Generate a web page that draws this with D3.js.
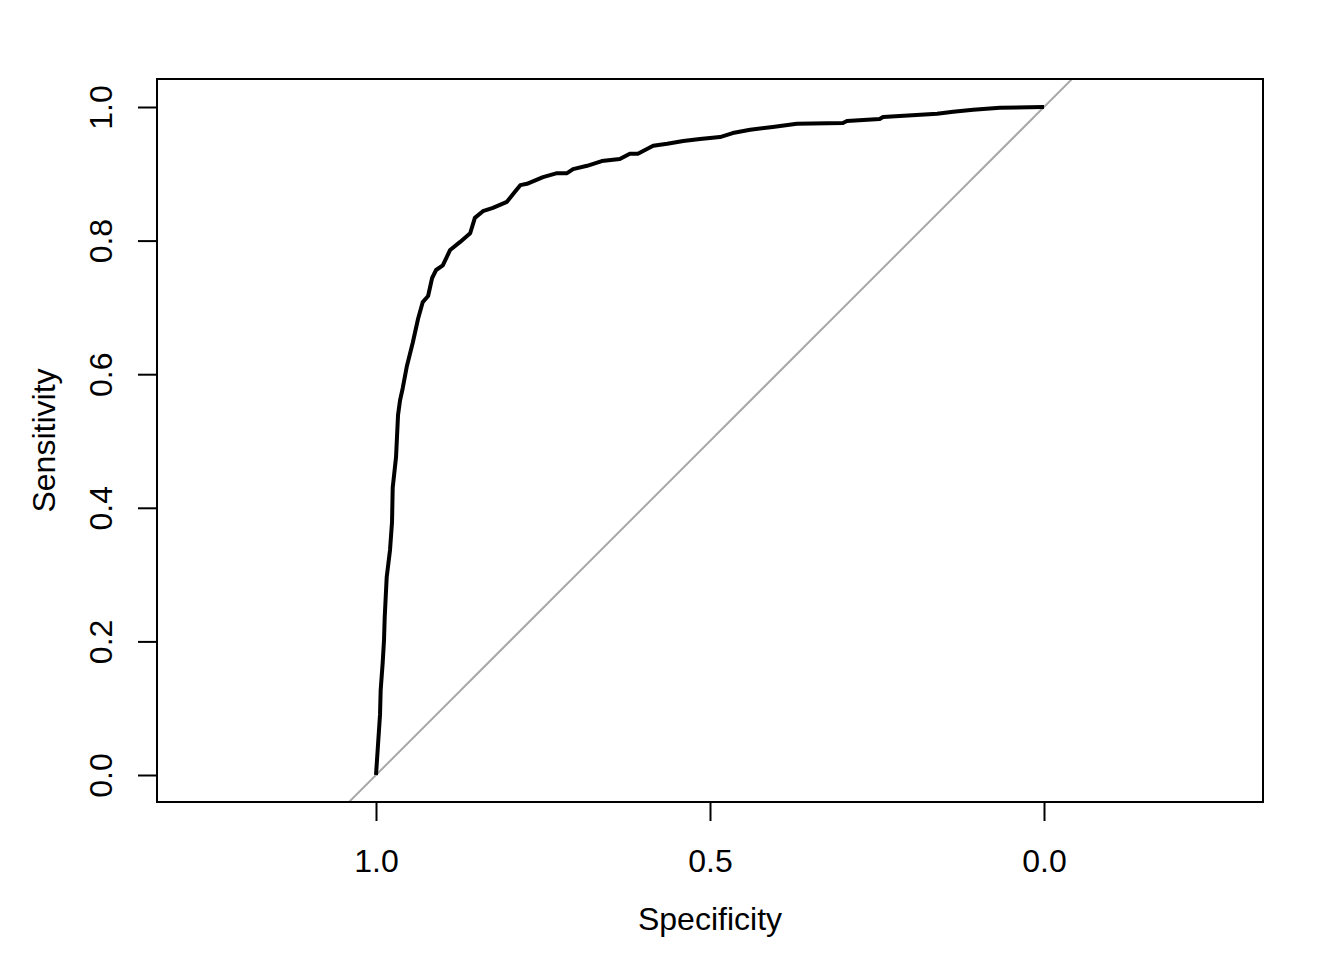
<!DOCTYPE html>
<html>
<head>
<meta charset="utf-8">
<script src="https://cdn.jsdelivr.net/npm/d3@7"></script>
<style>
  html, body { margin: 0; padding: 0; background: #ffffff; }
  svg { display: block; }
  text { font-family: "Liberation Sans", Arial, Helvetica, sans-serif; fill: #000; }
</style>
</head>
<body>
<svg id="chart" width="1344" height="960"></svg>
<script>
// ---- data ----
const specificity = [1.000, 0.997, 0.994, 0.993, 0.990, 0.988, 0.987, 0.984, 0.979, 0.976,
  0.975, 0.970, 0.967, 0.964, 0.960, 0.954, 0.945, 0.937, 0.930, 0.922,
  0.916, 0.910, 0.900, 0.889, 0.874, 0.859, 0.852, 0.840, 0.825, 0.804,
  0.792, 0.784, 0.774, 0.750, 0.729, 0.714, 0.705, 0.684, 0.662, 0.635,
  0.620, 0.608, 0.585, 0.564, 0.540, 0.515, 0.485, 0.466, 0.440, 0.406,
  0.370, 0.301, 0.295, 0.246, 0.241, 0.160, 0.136, 0.106, 0.066, 0.001, 0.000];
const sensitivity = [0.000, 0.045, 0.090, 0.127, 0.168, 0.202, 0.235, 0.296, 0.337, 0.379,
  0.430, 0.476, 0.539, 0.561, 0.579, 0.611, 0.647, 0.683, 0.708, 0.717,
  0.744, 0.756, 0.763, 0.786, 0.798, 0.811, 0.834, 0.844, 0.849, 0.858,
  0.873, 0.883, 0.885, 0.895, 0.901, 0.901, 0.907, 0.912, 0.919, 0.922,
  0.930, 0.930, 0.942, 0.945, 0.949, 0.952, 0.955, 0.961, 0.966, 0.970,
  0.975, 0.976, 0.979, 0.982, 0.985, 0.990, 0.993, 0.996, 0.999, 1.000, 1.000];
const xTicks = [1.0, 0.5, 0.0];
const yTicks = [0.0, 0.2, 0.4, 0.6, 0.8, 1.0];
const diagonalSpec = [1.3, -0.3];
const xTitle = "Specificity";
const yTitle = "Sensitivity";

// ---- layout ----
const box = { left: 157, right: 1263, top: 79, bottom: 802 };
const svg = d3.select("#chart");

const x = d3.scaleLinear().domain([1, 0]).range([376, 1044]);
const y = d3.scaleLinear().domain([0, 1]).range([775, 107]);

svg.append("defs").append("clipPath").attr("id", "plotclip")
  .append("rect")
  .attr("x", box.left).attr("y", box.top)
  .attr("width", box.right - box.left).attr("height", box.bottom - box.top);

const plot = svg.append("g").attr("clip-path", "url(#plotclip)");

// identity line
plot.append("path")
  .datum(diagonalSpec)
  .attr("fill", "none")
  .attr("stroke", "#a9a9a9")
  .attr("stroke-width", 2)
  .attr("d", d3.line().x(d => x(d)).y(d => y(1 - d)));

// ROC curve
const pts = specificity.map((s, i) => [s, sensitivity[i]]);
plot.append("path")
  .datum(pts)
  .attr("fill", "none")
  .attr("stroke", "#000")
  .attr("stroke-width", 4)
  .attr("stroke-linejoin", "round")
  .attr("d", d3.line().x(d => x(d[0])).y(d => y(d[1])));

// box
svg.append("rect")
  .attr("x", box.left).attr("y", box.top)
  .attr("width", box.right - box.left).attr("height", box.bottom - box.top)
  .attr("fill", "none").attr("stroke", "#000").attr("stroke-width", 2);

// bottom axis
const gx = svg.append("g")
  .attr("transform", `translate(0,${box.bottom})`)
  .call(d3.axisBottom(x).tickValues(xTicks).tickSize(19).tickFormat(d3.format(".1f")));
gx.select(".domain").remove();
gx.selectAll(".tick line").attr("stroke", "#000").attr("stroke-width", 2);
gx.selectAll(".tick text")
  .attr("y", 70).attr("dy", 0)
  .style("font-size", "32px")
  .style("font-family", "'Liberation Sans', Arial, sans-serif")
  .attr("fill", "#000");

// left axis
const gy = svg.append("g")
  .attr("transform", `translate(${box.left},0)`)
  .call(d3.axisLeft(y).tickValues(yTicks).tickSize(19).tickFormat(d3.format(".1f")));
gy.select(".domain").remove();
gy.selectAll(".tick line").attr("stroke", "#000").attr("stroke-width", 2);
gy.selectAll(".tick text")
  .attr("x", 0).attr("y", -45).attr("dy", 0)
  .attr("transform", "rotate(-90)")
  .attr("text-anchor", "middle")
  .style("font-size", "32px")
  .style("font-family", "'Liberation Sans', Arial, sans-serif")
  .attr("fill", "#000");

// axis titles
svg.append("text")
  .attr("x", (box.left + box.right) / 2)
  .attr("y", 930)
  .attr("text-anchor", "middle")
  .style("font-size", "32px")
  .text(xTitle);

svg.append("text")
  .attr("transform", `translate(55,${(box.top + box.bottom) / 2}) rotate(-90)`)
  .attr("text-anchor", "middle")
  .style("font-size", "32px")
  .text(yTitle);
</script>
</body>
</html>
